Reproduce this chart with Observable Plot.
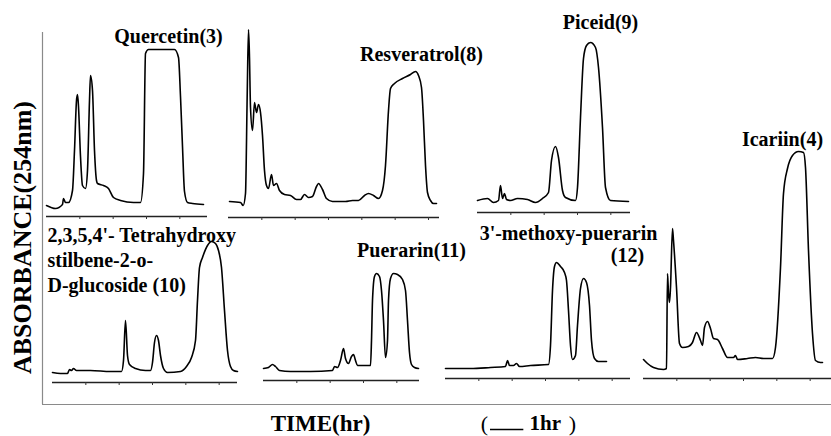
<!DOCTYPE html>
<html>
<head>
<meta charset="utf-8">
<script src="https://cdn.jsdelivr.net/npm/d3@7"></script>
<script src="https://cdn.jsdelivr.net/npm/@observablehq/plot@0.6"></script>
<style>
  html, body { margin: 0; padding: 0; background: #fff; }
  #chart { width: 831px; height: 436px; }
</style>
</head>
<body>
<div id="chart"></div>
<script>
// ---- Chromatogram data: time since injection (hr) and absorbance (mAU at 254nm) ----
const quercetinT = [0,0.27,0.48,0.51,0.57,0.66,0.78,0.84,0.90,0.93,0.96,1.02,1.08,1.17,1.23,1.29,1.32,1.38,1.44,1.50,1.53,1.71,1.86,2.01,2.22,2.61,2.82,2.91,2.97,3.06,3.84,3.96,4.02,4.08,4.14,4.23,4.38,4.71];
const quercetinA = [11,8,12,18,14,14,26,66,116,122,110,60,31,28,46,116,141,126,66,36,33,31,28,19,16,14,14,43,163,167,167,159,120,70,25,14,13,12];

const resveratrolT = [0.03,0.36,0.44,0.51,0.56,0.60,0.63,0.66,0.72,0.78,0.84,0.90,0.96,1.02,1.08,1.14,1.20,1.29,1.35,1.44,1.53,1.68,1.86,2.04,2.16,2.28,2.40,2.52,2.64,2.70,2.82,2.94,3.12,3.51,3.72,3.90,4.08,4.20,4.35,4.50,4.62,4.71,4.80,4.86,4.98,5.22,5.46,5.61,5.70,5.79,5.85,5.91,5.97,6.06,6.15,6.24];
const resveratrolA = [16,15,12,24,120,188,160,110,87,115,105,113,105,82,47,32,29,43,32,34,27,23,22,18,18,23,20,21,31,34,28,19,16,16,17,17,22,24,22,19,27,52,107,129,134,139,143,146,142,130,97,52,25,17,14,14];

const piceidT = [0,0.30,0.48,0.63,0.69,0.75,0.81,0.87,0.99,1.20,1.50,1.74,1.95,2.13,2.22,2.34,2.43,2.55,2.64,2.94,3.00,3.09,3.18,3.27,3.39,3.54,3.63,3.75,3.84,3.99,4.53];
const piceidA = [12,14,10,12,27,14,19,13,12,14,13,10,14,20,52,66,55,22,15,12,25,95,154,167,170,165,145,85,25,12,11];

const icariinT = [0,0.12,0.30,0.60,0.69,0.72,0.75,0.78,0.81,0.87,0.90,0.99,1.08,1.17,1.35,1.47,1.59,1.71,1.77,1.83,1.92,2.01,2.10,2.22,2.37,2.52,2.70,2.76,2.82,3.12,3.36,3.60,3.87,3.96,4.11,4.20,4.32,4.47,4.65,4.80,4.86,4.95,5.07,5.16,5.31,5.37];
const icariinA = [19,15,11,9,10,105,85,76,91,150,138,91,35,31,32,36,46,38,33,51,57,50,40,39,30,21,21,23,19,20,21,20,20,31,111,185,210,223,227,226,211,128,45,18,16,16];

const stilbeneT = [0,0.24,0.45,0.51,0.57,0.63,0.72,1.14,1.74,2.07,2.13,2.19,2.25,2.31,2.49,2.79,2.94,3.00,3.06,3.12,3.18,3.24,3.33,3.45,3.84,4.02,4.17,4.29,4.35,4.41,4.50,4.65,4.77,4.89,4.98,5.07,5.16,5.25,5.34,5.43,5.55];
const stilbeneA = [10,9,9,13,12,14,12,12,11,11,22,62,27,18,14,12,12,20,40,47,42,27,14,10,11,16,25,42,82,115,125,137,141,139,132,115,72,32,16,12,11];

const puerarinT = [0,0.15,0.27,0.36,0.48,0.81,1.41,2.07,2.13,2.22,2.31,2.40,2.46,2.55,2.64,2.70,2.76,2.82,3.21,3.24,3.27,3.33,3.39,3.48,3.54,3.60,3.66,3.72,3.75,3.81,3.90,4.02,4.17,4.26,4.32,4.38,4.44,4.53,4.65];
const puerarinA = [12,13,16,14,10,9,9,10,14,13,20,32,22,17,24,26,20,15,15,40,80,104,107,104,90,60,23,40,80,102,107,106,101,90,60,28,16,13,12];

const methoxyT = [0,0.75,1.35,1.80,1.86,1.92,2.04,2.13,2.22,2.55,3.09,3.15,3.21,3.27,3.33,3.45,3.57,3.63,3.69,3.75,3.81,3.90,3.96,4.05,4.14,4.23,4.32,4.38,4.47,4.59,4.83];
const methoxyA = [10,10,11,12,18,13,13,15,12,13,14,33,88,112,116,112,106,98,68,33,19,23,53,90,100,96,73,38,20,17,17];

// ---- Text ----
const panelLabels = ["Quercetin(3)", "Resveratrol(8)", "Piceid(9)", "Icariin(4)",
  "Puerarin(11)", "3'-methoxy-puerarin", "(12)"];
const stilbeneLabel = "2,3,5,4'- Tetrahydroxy\nstilbene-2-o-\nD-glucoside (10)";
const yTitle = "ABSORBANCE(254nm)";
const xTitle = "TIME(hr)";
const scaleBarLabel = "1hr";

// ---- Layout of the small chromatograms inside the figure frame (hr, mAU) ----
const panels = [
  {t: quercetinT,   a: quercetinA,   x0: 0.12,  y0: 188, len: 4.83},
  {t: resveratrolT, a: resveratrolA, x0: 5.58,  y0: 187, len: 6.33},
  {t: piceidT,      a: piceidA,      x0: 13.05, y0: 192, len: 4.59},
  {t: icariinT,     a: icariinA,     x0: 18.03, y0: 26,  len: 5.64},
  {t: stilbeneT,    a: stilbeneA,    x0: 0.30,  y0: 22,  len: 5.55},
  {t: puerarinT,    a: puerarinA,    x0: 6.63,  y0: 24,  len: 4.68},
  {t: methoxyT,     a: methoxyA,     x0: 12.09, y0: 26,  len: 5.55}
];
const labelPos = [
  {x: 3.78,  y: 368},
  {x: 11.37, y: 350},
  {x: 16.74, y: 382},
  {x: 22.2,  y: 265},
  {x: 11.07, y: 154},
  {x: 15.78, y: 171},
  {x: 17.55, y: 149}
];
const stilbenePos = {x: 0.15, y: 146};

const tracePts = panels.flatMap((p, i) => p.t.map((t, j) => ({panel: i, x: p.x0 + t, y: p.y0 + p.a[j]})));
const ticks = panels.flatMap(p => d3.range(1, Math.floor(p.len) + 1).map(k => ({x: p.x0 + k, y: p.y0})));
const labels = panelLabels.map((text, i) => ({text, ...labelPos[i]}));

const font = "'Liberation Serif', 'DejaVu Serif', serif";
const xMax = 23.67;
const bold = {fontWeight: "bold", fill: "#000", fontFamily: font, lineAnchor: "middle"};

const chart = Plot.plot({
  width: 831,
  height: 436,
  marginLeft: 42,
  marginRight: 0,
  marginTop: 0,
  marginBottom: 32,
  x: {domain: [0, xMax], axis: null},
  y: {domain: [0, 404], axis: null},
  style: {background: "#fff", fontFamily: font, overflow: "visible"},
  marks: [
    // figure frame
    Plot.ruleX([0], {y1: 0, y2: 372, stroke: "#8a8a8a", strokeWidth: 1.2}),
    Plot.ruleY([0], {x1: 0, x2: xMax, stroke: "#8a8a8a", strokeWidth: 1.2}),
    // time axes under each chromatogram
    Plot.ruleY(panels, {y: "y0", x1: "x0", x2: d => d.x0 + d.len, stroke: "#222", strokeWidth: 1.6}),
    Plot.ruleX(ticks, {x: "x", y1: "y", y2: d => d.y - 3, stroke: "#333", strokeWidth: 1}),
    // traces
    Plot.line(tracePts, {x: "x", y: "y", z: "panel", stroke: "#000", strokeWidth: 1.6, curve: "monotone-x"}),
    // peak labels
    Plot.text(labels, {x: "x", y: "y", text: "text", textAnchor: "middle", fontSize: 20, ...bold}),
    Plot.text([stilbeneLabel], {x: stilbenePos.x, y: stilbenePos.y, text: d => d, textAnchor: "start",
      lineHeight: 1.25, fontSize: 20, ...bold}),
    // axis titles
    Plot.text([yTitle], {x: -0.6, y: 167, text: d => d, rotate: -90, fontSize: 26, ...bold}),
    Plot.text([xTitle], {x: 8.34, y: -19, text: d => d, fontSize: 23, ...bold}),
    // scale bar ( — 1hr )
    Plot.text(["("], {x: 13.26, y: -19, text: d => d, fontSize: 22, fill: "#000", fontFamily: font, lineAnchor: "middle"}),
    Plot.ruleY([-25], {x1: 13.44, x2: 14.44, stroke: "#000", strokeWidth: 1.3}),
    Plot.text([scaleBarLabel], {x: 14.61, y: -19, text: d => d, textAnchor: "start", fontSize: 21, ...bold}),
    Plot.text([")"], {x: 15.9, y: -19, text: d => d, fontSize: 22, fill: "#000", fontFamily: font, lineAnchor: "middle"})
  ]
});
document.getElementById("chart").appendChild(chart);
</script>
</body>
</html>
